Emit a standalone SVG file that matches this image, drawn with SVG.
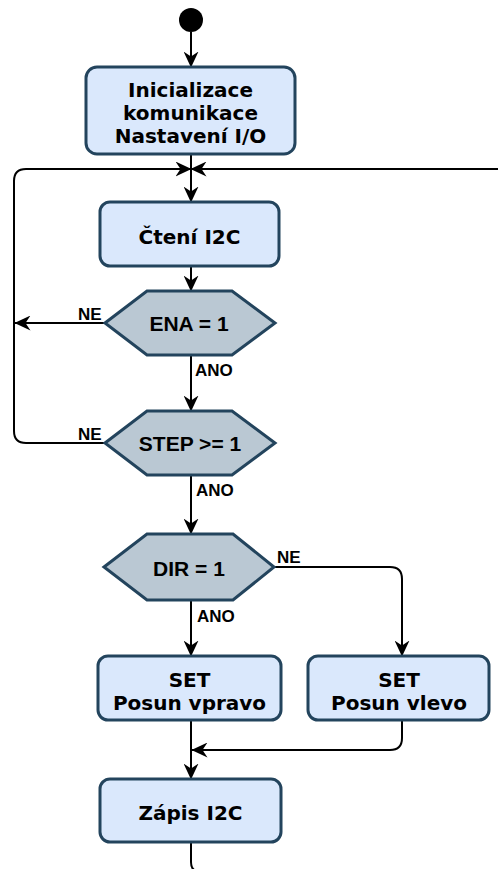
<svg xmlns="http://www.w3.org/2000/svg" width="498" height="869" viewBox="0 0 498 869">
<defs>
<marker id="arr" markerUnits="userSpaceOnUse" markerWidth="16" markerHeight="15" viewBox="0 0 16 15" refX="15.5" refY="7.5" orient="auto">
<path d="M0,0 L16,7.5 L0,15 L5,7.5 Z" fill="#000"/>
</marker>
<style>
.box{fill:#dae8fc;stroke:#23445d;stroke-width:3}
.hex{fill:#bac8d3;stroke:#23445d;stroke-width:3}
.bt{font-family:"DejaVu Sans",Verdana,sans-serif;font-weight:bold;font-size:20px;fill:#000;text-anchor:middle}
.ht{font-family:"Liberation Sans",Arial,sans-serif;font-weight:bold;font-size:21px;fill:#000;text-anchor:middle}
.lb{font-family:"Liberation Sans",Arial,sans-serif;font-weight:bold;font-size:17px;fill:#000}
.c{fill:none;stroke:#000;stroke-width:2}
</style>
</defs>
<rect width="498" height="869" fill="#fff"/>
<g id="connectors">
<path class="c" d="M191,32 L191,67" marker-end="url(#arr)"/>
<path class="c" d="M191,154 L191,202" marker-end="url(#arr)"/>
<path class="c" d="M105,443 L26,443 Q14,443 14,431 L14,181 Q14,169 26,169 L191,169" marker-end="url(#arr)"/>
<path class="c" d="M191,842 L191,862 Q191,872 201,872 L497,872 Q508,872 508,861 L508,180 Q508,169 497,169 L191,169" marker-end="url(#arr)"/>
<path class="c" d="M105,323 L15,323" marker-end="url(#arr)"/>
<path class="c" d="M191,266 L191,291" marker-end="url(#arr)"/>
<path class="c" d="M191,355 L191,411" marker-end="url(#arr)"/>
<path class="c" d="M191,475 L191,534" marker-end="url(#arr)"/>
<path class="c" d="M191,600 L191,656" marker-end="url(#arr)"/>
<path class="c" d="M274,567 L390,567 Q402,567 402,579 L402,656" marker-end="url(#arr)"/>
<path class="c" d="M402,720 L402,738 Q402,750 390,750 L192,750" marker-end="url(#arr)"/>
<path class="c" d="M191,720 L191,779" marker-end="url(#arr)"/>
<text class="lb" x="78" y="320">NE</text>
<text class="lb" x="195" y="376">ANO</text>
<text class="lb" x="78" y="440">NE</text>
<text class="lb" x="196" y="496">ANO</text>
<text class="lb" x="277" y="563">NE</text>
<text class="lb" x="197" y="622">ANO</text>
</g>
<g id="start"><circle cx="191" cy="20" r="12" fill="#000"/></g>
<g id="init">
<rect class="box" x="86" y="67" width="209" height="87" rx="11"/>
<text class="bt" x="190.5" y="96.5">Inicializace</text>
<text class="bt" x="190.5" y="119.5">komunikace</text>
<text class="bt" x="190.5" y="142.5">Nastavení I/O</text>
</g>
<g id="cteni">
<rect class="box" x="100" y="202" width="179" height="64" rx="10"/>
<text class="bt" x="189.5" y="244">Čtení I2C</text>
</g>
<g id="ena">
<polygon class="hex" points="105,323 147,291 232,291 275,323 232,355 147,355"/>
<text class="ht" x="189" y="331">ENA = 1</text>
</g>
<g id="step">
<polygon class="hex" points="105,443 147,411 232,411 275,443 232,475 147,475"/>
<text class="ht" x="190" y="451">STEP &gt;= 1</text>
</g>
<g id="dir">
<polygon class="hex" points="104,567 147,534 233,534 274,567 233,600 147,600"/>
<text class="ht" x="189" y="576">DIR = 1</text>
</g>
<g id="vpravo">
<rect class="box" x="98" y="656" width="183" height="64" rx="10"/>
<text class="bt" x="189.5" y="687">SET</text>
<text class="bt" x="189.5" y="710">Posun vpravo</text>
</g>
<g id="vlevo">
<rect class="box" x="308" y="656" width="181" height="64" rx="10"/>
<text class="bt" x="399" y="687">SET</text>
<text class="bt" x="399" y="710">Posun vlevo</text>
</g>
<g id="zapis">
<rect class="box" x="100" y="779" width="181" height="63" rx="10"/>
<text class="bt" x="190.5" y="820">Zápis I2C</text>
</g>
</svg>
